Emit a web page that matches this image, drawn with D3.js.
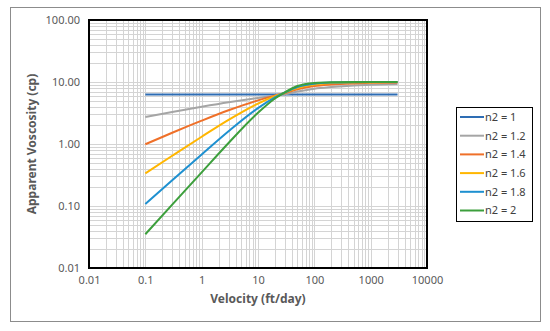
<!DOCTYPE html>
<html>
<head>
<meta charset="utf-8">
<script src="https://cdn.jsdelivr.net/npm/d3@7/dist/d3.min.js"></script>
<style>
  body { margin: 0; background: #fff; }
  svg { display: block; font-family: "Noto Sans", "DejaVu Sans", sans-serif; }
</style>
</head>
<body>
<div id="viz"></div>
<script>
// velocity grid (ft/day) shared by every series
var velocity = [0.1, 0.3, 1, 3, 10, 20, 30, 50, 100, 200, 500, 1000, 3000];

// apparent viscosity (cp)
var n2_1   = [6.3, 6.3, 6.3, 6.3, 6.3, 6.3, 6.3, 6.3, 6.3, 6.3, 6.3, 6.3, 6.3];
var n2_1_2 = [2.72, 3.27, 3.98, 4.71, 5.54, 6.03, 6.35, 7.0, 7.8, 8.3, 8.8, 9.0, 9.3];
var n2_1_4 = [0.99, 1.52, 2.38, 3.5, 5.06, 6.03, 6.6, 7.6, 8.6, 9.1, 9.5, 9.7, 9.85];
var n2_1_6 = [0.336, 0.646, 1.31, 2.45, 4.48, 5.92, 6.75, 8.0, 9.1, 9.6, 9.85, 9.93, 9.97];
var n2_1_8 = [0.108, 0.261, 0.68, 1.61, 3.8, 5.67, 6.78, 8.3, 9.4, 9.8, 9.95, 9.98, 10];
var n2_2   = [0.035, 0.105, 0.349, 1.04, 3.19, 5.42, 6.81, 8.6, 9.65, 9.92, 10, 10, 10];

var seriesNames = ["n2 = 1", "n2 = 1.2", "n2 = 1.4", "n2 = 1.6", "n2 = 1.8", "n2 = 2"];
var seriesValues = [n2_1, n2_1_2, n2_1_4, n2_1_6, n2_1_8, n2_2];
var seriesColors = ["#2e6db4", "#a5a5a5", "#ef7029", "#ffb600", "#1e90d0", "#3c9f3c"];

var xTickValues = [0.01, 0.1, 1, 10, 100, 1000, 10000];
var xTickLabels = ["0.01", "0.1", "1", "10", "100", "1000", "10000"];
var yTickValues = [0.01, 0.1, 1, 10, 100];
var yTickLabels = ["0.01", "0.10", "1.00", "10.00", "100.00"];

var width = 550, height = 331;
var plot = { left: 89, top: 20, right: 427, bottom: 268 };

var x = d3.scaleLog().domain([0.01, 10000]).range([plot.left, plot.right]);
var y = d3.scaleLog().domain([0.01, 100]).range([plot.bottom, plot.top]);

// 1..9 x 10^k gridlines
function logGrid(lo, hi) {
  var out = [];
  for (var e = Math.log10(lo); e < Math.log10(hi); e++)
    for (var m = 1; m < 10; m++) out.push(m * Math.pow(10, e));
  out.push(hi);
  return out;
}

var svg = d3.select("#viz").append("svg")
  .attr("width", width)
  .attr("height", height);

svg.append("rect")
  .attr("x", 10.5).attr("y", 7.5)
  .attr("width", 530).attr("height", 314)
  .attr("fill", "#fff")
  .attr("stroke", "#8c8c8c")
  .attr("stroke-width", 1);

var grid = svg.append("g").attr("stroke", "#d4d4d4").attr("stroke-width", 1);
grid.selectAll("line.vx")
  .data(logGrid(0.01, 10000))
  .enter().append("line")
    .attr("x1", function(d) { return Math.round(x(d)) + 0.5; })
    .attr("x2", function(d) { return Math.round(x(d)) + 0.5; })
    .attr("y1", plot.top).attr("y2", plot.bottom);
grid.selectAll("line.hy")
  .data(logGrid(0.01, 100))
  .enter().append("line")
    .attr("y1", function(d) { return Math.round(y(d)) + 0.5; })
    .attr("y2", function(d) { return Math.round(y(d)) + 0.5; })
    .attr("x1", plot.left).attr("x2", plot.right);

svg.append("rect")
  .attr("x", plot.left).attr("y", plot.top)
  .attr("width", plot.right - plot.left)
  .attr("height", plot.bottom - plot.top)
  .attr("fill", "none")
  .attr("stroke", "#000")
  .attr("stroke-width", 2);

var xAxis = d3.axisBottom(x)
  .tickValues(xTickValues)
  .tickSize(0)
  .tickPadding(8)
  .tickFormat(function(d, i) { return xTickLabels[i]; });
var gx = svg.append("g")
  .attr("transform", "translate(0," + plot.bottom + ")")
  .call(xAxis);

var yAxis = d3.axisLeft(y)
  .tickValues(yTickValues)
  .tickSize(0)
  .tickPadding(9)
  .tickFormat(function(d, i) { return yTickLabels[i]; });
var gy = svg.append("g")
  .attr("transform", "translate(" + plot.left + ",0)")
  .call(yAxis);

[gx, gy].forEach(function(g) {
  g.select(".domain").remove();
  g.selectAll("text")
    .attr("fill", "#595959")
    .style("font-size", "11px")
    .style("font-family", "'Noto Sans', sans-serif");
});

svg.append("text")
  .attr("x", (plot.left + plot.right) / 2)
  .attr("y", 303)
  .attr("text-anchor", "middle")
  .attr("fill", "#595959")
  .style("font-size", "12px")
  .style("font-weight", "bold")
  .text("Velocity (ft/day)");

svg.append("text")
  .attr("transform", "translate(36," + (plot.top + plot.bottom) / 2 + ") rotate(-90)")
  .attr("text-anchor", "middle")
  .attr("fill", "#595959")
  .style("font-size", "12px")
  .style("font-weight", "bold")
  .text("Apparent Voscosity (cp)");

var line = d3.line()
  .x(function(d, i) { return x(velocity[i]); })
  .y(function(d) { return y(d); })
  .curve(d3.curveMonotoneX);

svg.append("g").selectAll("path")
  .data(seriesValues)
  .enter().append("path")
    .attr("d", line)
    .attr("fill", "none")
    .attr("stroke", function(d, i) { return seriesColors[i]; })
    .attr("stroke-width", 2);

// legend
var legend = svg.append("g").attr("transform", "translate(456,107)");
legend.append("rect")
  .attr("x", 0.5).attr("y", 0.5)
  .attr("width", 76).attr("height", 114)
  .attr("fill", "#fff")
  .attr("stroke", "#000")
  .attr("stroke-width", 1);
var item = legend.selectAll("g.item")
  .data(seriesNames)
  .enter().append("g")
    .attr("transform", function(d, i) { return "translate(0," + (10 + i * 18.7) + ")"; });
item.append("line")
  .attr("x1", 4).attr("x2", 28)
  .attr("stroke", function(d, i) { return seriesColors[i]; })
  .attr("stroke-width", 2);
item.append("text")
  .attr("x", 29).attr("dy", "0.35em")
  .attr("fill", "#404040")
  .style("font-size", "11px")
  .text(function(d) { return d; });
</script>
</body>
</html>
